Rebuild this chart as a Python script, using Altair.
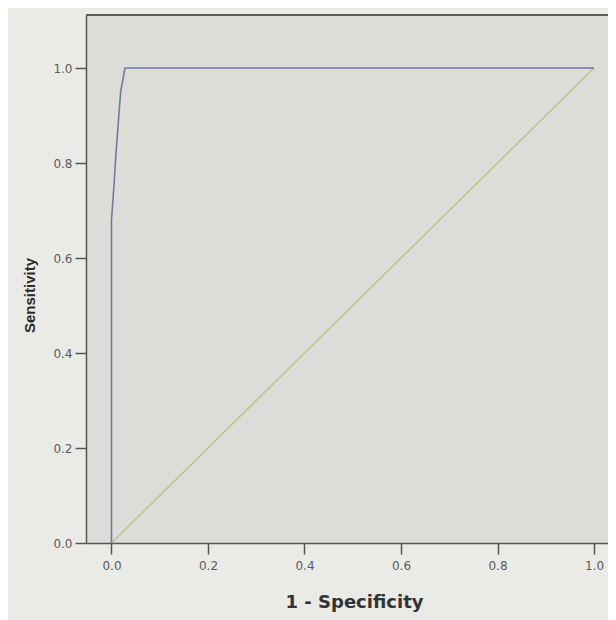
import altair as alt
import pandas as pd

# ROC curve points (1 - specificity, sensitivity)
roc_fpr = [0.0, 0.0, 0.005, 0.010, 0.019, 0.028, 1.0]
roc_tpr = [0.0, 0.68, 0.75, 0.83, 0.95, 1.0, 1.0]

# Reference (chance) line
ref_fpr = [0.0, 1.0]
ref_tpr = [0.0, 1.0]

x_ticks = [0.0, 0.2, 0.4, 0.6, 0.8, 1.0]
y_ticks = [0.0, 0.2, 0.4, 0.6, 0.8, 1.0]

roc_df = pd.DataFrame({"fpr": roc_fpr, "tpr": roc_tpr, "order": list(range(len(roc_fpr)))})
ref_df = pd.DataFrame({"fpr": ref_fpr, "tpr": ref_tpr, "order": list(range(len(ref_fpr)))})

W, H = 522, 528
xscale = alt.Scale(domain=[-0.0528, 1.0290], nice=False, zero=False)
yscale = alt.Scale(domain=[0.0, 1.1116], nice=False, zero=False)

xaxis = alt.Axis(
    values=x_ticks, format=".1f", grid=False,
    tickSize=11, tickColor="#555555", tickWidth=1.5,
    domainColor="#555555", domainWidth=1.5,
    labelFont="DejaVu Sans", labelFontSize=12, labelColor="#5a5a5a", labelPadding=6,
    title="1 - Specificity", titleFont="DejaVu Sans", titleFontWeight="bold",
    titleFontSize=18, titleColor="#333333", titleX=268, titleY=59,
    titleAlign="center", titleBaseline="middle",
)
yaxis = alt.Axis(
    values=y_ticks, format=".1f", grid=False,
    tickSize=11, tickColor="#555555", tickWidth=1.5,
    domainColor="#555555", domainWidth=1.5,
    labelFont="DejaVu Sans", labelFontSize=12, labelColor="#5a5a5a", labelPadding=3,
    title="Sensitivity", titleFont="Liberation Sans", titleFontWeight="bold",
    titleFontSize=15, titleColor="#2a2a2a", titleX=-57, titleY=280,
    titleAlign="center", titleBaseline="middle", titleAngle=-90,
)

ref_line = alt.Chart(ref_df).mark_line(color="#bcc384", strokeWidth=1.4).encode(
    x=alt.X("fpr:Q", scale=xscale, axis=xaxis),
    y=alt.Y("tpr:Q", scale=yscale, axis=yaxis),
    order="order:O",
)
roc_line = alt.Chart(roc_df).mark_line(color="#727a9c", strokeWidth=1.6).encode(
    x=alt.X("fpr:Q", scale=xscale),
    y=alt.Y("tpr:Q", scale=yscale),
    order="order:O",
)
top_border = alt.Chart(ref_df).mark_rule(color="#555555", strokeWidth=1.5).encode(
    x=alt.value(0), x2=alt.value(W), y=alt.value(0)
)

chart = alt.layer(ref_line, roc_line, top_border).properties(
    width=W, height=H,
    autosize=alt.AutoSizeParams(type="none"),
    padding={"left": 78, "top": 7, "right": 0, "bottom": 77},
    background="#eaeae6",
).configure_view(
    fill="#dcdcd8", stroke=None
)

chart.save("out.html", embed_options={"renderer": "svg", "actions": False})
